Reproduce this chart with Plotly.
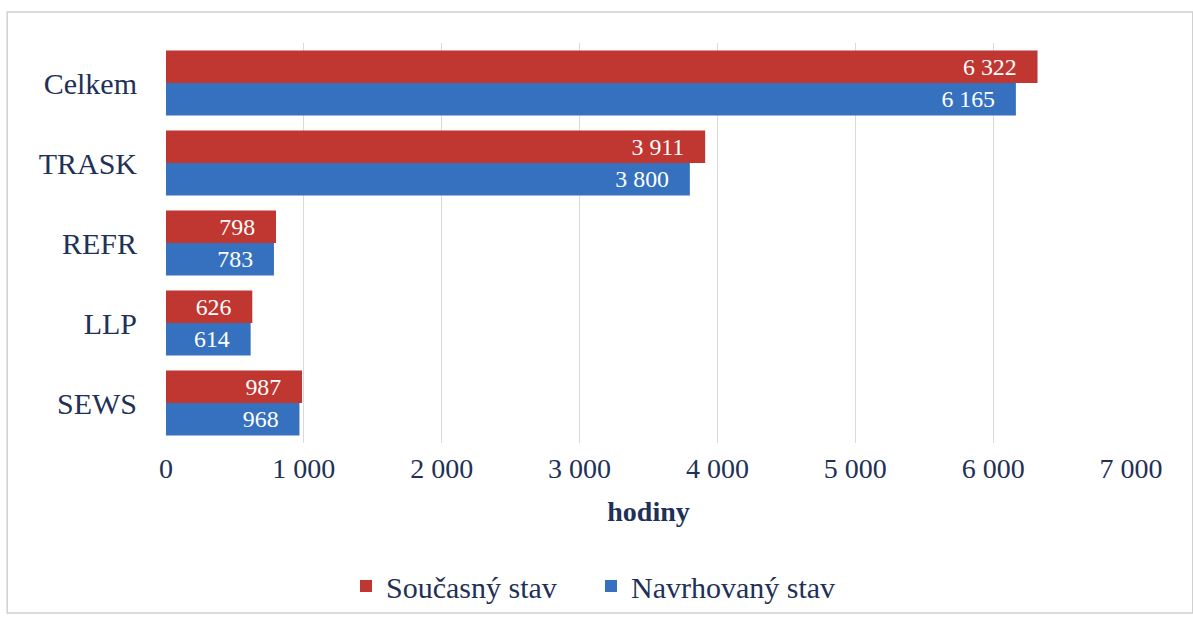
import plotly.graph_objects as go

categories = ["Celkem", "TRASK", "REFR", "LLP", "SEWS"]
soucasny = [6322, 3911, 798, 626, 987]
navrhovany = [6165, 3800, 783, 614, 968]
x_ticks = [0, 1000, 2000, 3000, 4000, 5000, 6000, 7000]

FONT = "Liberation Serif"
TXT = "#1f3157"
PAD = "\u00a0\u00a0\u00a0"

fig = go.Figure()
fig.add_trace(go.Bar(
    y=categories, x=soucasny, orientation="h", name="Současný stav",
    marker=dict(color="#c03630", line=dict(width=0)),
    texttemplate="%{x:,d}" + PAD, textposition="inside", insidetextanchor="end",
    textfont=dict(family=FONT, size=28, color="white"),
))
fig.add_trace(go.Bar(
    y=categories, x=navrhovany, orientation="h", name="Navrhovaný stav",
    marker=dict(color="#3571bf", line=dict(width=0)),
    texttemplate="%{x:,d}" + PAD, textposition="inside", insidetextanchor="end",
    textfont=dict(family=FONT, size=28, color="white"),
))

fig.update_layout(
    width=1193, height=620,
    barmode="group", bargap=0.19, bargroupgap=0,
    separators=", ",
    paper_bgcolor="white", plot_bgcolor="white",
    margin=dict(l=166, r=62, t=43, b=177, autoexpand=False),
    font=dict(family=FONT, color=TXT, size=24),
    xaxis=dict(
        range=[0, 7000], tickvals=x_ticks, tickformat=",d",
        showgrid=True, gridcolor="#d9d9d9", gridwidth=1,
        zeroline=False, showline=False, ticks="", ticklabelstandoff=6,
        tickfont=dict(family=FONT, size=28, color=TXT),
        title=dict(text="<b>hodiny</b>", font=dict(family=FONT, size=28, color=TXT), standoff=18),
    ),
    yaxis=dict(
        autorange="reversed", showgrid=False, zeroline=False, showline=False,
        ticks="", ticklabelstandoff=28,
        tickfont=dict(family=FONT, size=30, color=TXT),
    ),
    legend=dict(
        orientation="h", xref="container", yref="container",
        x=346 / 1193, xanchor="left", y=1 - 586 / 620, yanchor="middle",
        font=dict(family=FONT, size=30, color=TXT), traceorder="normal",
        itemwidth=30, entrywidth=200, entrywidthmode="pixels",
    ),
    uniformtext=dict(mode=False),
    shapes=[dict(
        type="rect", xref="paper", yref="paper",
        x0=-159 / 966, x1=1.064, y0=-170 / 400, y1=1 + 31 / 400,
        line=dict(color="#d0d0d0", width=1.5), fillcolor="rgba(0,0,0,0)", layer="below",
    )],
)

fig.write_html("out.html")
